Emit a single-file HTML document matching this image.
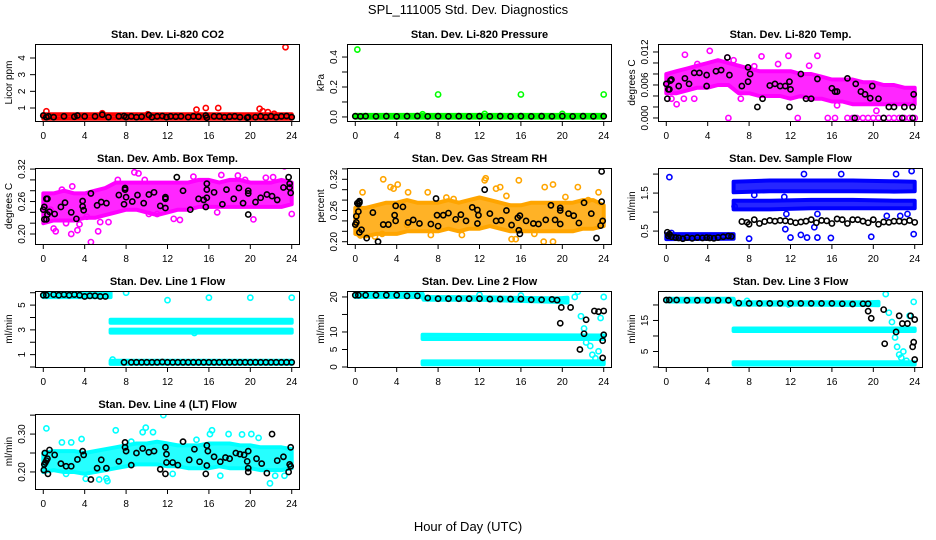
<!DOCTYPE html>
<html><head><meta charset="utf-8"><style>
html,body{margin:0;padding:0;background:#fff;}
svg{display:block;font-family:"Liberation Sans",Arial,sans-serif;}
</style></head><body>
<svg id="chart" width="936" height="540" viewBox="0 0 936 540">
<rect x="0" y="0" width="936" height="540" fill="#fff"/>
<text x="468" y="14" text-anchor="middle" font-size="13">SPL_111005  Std. Dev. Diagnostics</text>
<text x="468" y="531" text-anchor="middle" font-size="13">Hour of Day (UTC)</text>
</svg>
<script>
const HOURS=[0,1,2,3,4,5,6,7,8,9,10,11,12,13,14,15,16,17,18,19,20,21,22,23,24];
const XTICKS=[0,4,8,12,16,20,24];
const XTICK_LABELS=["0","4","8","12","16","20","24"];

// P1 CO2
const p1_bandX=[0,24];
const p1_bandLo=[0.36,0.36];
const p1_bandHi=[0.62,0.62];
const p1_cx=[0.3,14.8,15.7,16.9,20.9,21.2,21.7,23.4,5.7,10.1,22.3];
const p1_cy=[0.8,0.9,1.0,1.0,0.95,0.8,0.75,4.65,0.68,0.62,0.65];
const p1_kx=[0,0.3,0.5,1,2,3,3.3,4,5,5.7,6.3,7.3,7.8,8,8.5,9,9.5,10.2,10.5,11,11.5,11.9,12.3,12.8,13.3,14,14.5,15,15.7,15.8,16.5,17,17.5,18,18.5,19,19.7,19.8,20.5,21,21.5,22,22.5,23,23.5,24];
const p1_ky=[0.55,0.45,0.5,0.45,0.5,0.48,0.55,0.5,0.5,0.6,0.45,0.5,0.52,0.45,0.5,0.45,0.48,0.58,0.45,0.5,0.52,0.45,0.5,0.48,0.5,0.45,0.5,0.48,0.55,0.42,0.5,0.5,0.45,0.48,0.5,0.45,0.42,0.45,0.45,0.5,0.45,0.5,0.45,0.5,0.52,0.45];

// P2 Pressure
const p2_bandX=[0,24];
const p2_bandLo=[-0.004,-0.004];
const p2_bandHi=[0.014,0.014];
const p2_cx=[0.2,8,16,24,12.5,6.5,20];
const p2_cy=[0.45,0.15,0.15,0.15,0.02,0.018,0.02];
const p2_kx=[0,0.5,1,2,3,4,5,6,7,8,9,10,11,12,13,14,15,16,17,18,19,20,21,22,23,24];
const p2_ky=[0.005,0.004,0.005,0.004,0.005,0.004,0.005,0.006,0.004,0.005,0.004,0.005,0.004,0.005,0.004,0.005,0.004,0.005,0.004,0.005,0.004,0.005,0.004,0.005,0.004,0.005];

// P3 Li-820 Temp
const p3_bandLo=[0.0045,0.0045,0.005,0.0055,0.0055,0.006,0.006,0.0045,0.0045,0.004,0.004,0.004,0.0035,0.004,0.0035,0.0035,0.003,0.003,0.0025,0.0025,0.0025,0.0025,0.0025,0.0025,0.0025];
const p3_bandHi=[0.008,0.0085,0.009,0.0095,0.01,0.0105,0.01,0.0095,0.009,0.0085,0.0085,0.0085,0.0085,0.008,0.008,0.0075,0.007,0.007,0.007,0.0065,0.0065,0.006,0.006,0.0055,0.0055];
const p3_cx=[6,12.7,15.6,16.3,17.5,18,18.4,19,19.5,20,20.5,21,21.5,22,22.5,23,23.5,24,1.8,4.2,5.9,11.8,14.6,1,20.3,9.2,2.7,1.7,16.5,0.5,7.2,3,6.5,8.5,10.8,13.8];
const p3_cy=[0,0,0,0,0,0,0,0,0,0,0,0,0,0,0,0,0,0,0.0115,0.0122,0.011,0.0113,0.0113,0.0025,0.0013,0.0112,0.0035,0.0035,0.0023,0.0035,0.0035,0.0098,0.0105,0.0094,0.0098,0.0095];
const p3_kx=[0,0.1,0.2,0.3,0.4,0.5,1.2,1.8,2.2,2.7,3.2,3.9,3.9,4.8,5.3,5.9,6.1,7.3,7.9,7.9,8.1,8.8,9.3,10,10.5,11,11.5,11.9,11.9,12,13,13.5,14,14.6,16,16.3,16.5,17.5,18.2,18.3,18.8,19.2,19.7,19.9,20.5,21,21.5,22,22.8,23,23.8,23.9,23.8];
const p3_ky=[0.0062,0.0035,0.0052,0.0052,0.0068,0.007,0.0058,0.0072,0.0062,0.0082,0.0082,0.0058,0.0078,0.0085,0.0087,0.011,0.0078,0.0058,0.0092,0.0066,0.008,0.002,0.0035,0.0059,0.0062,0.0058,0.0058,0.0066,0.002,0.0052,0.008,0.0035,0.0035,0.0071,0.0054,0.0048,0.0048,0.0072,0,0.0062,0.0048,0.0043,0.0036,0.0058,0.0035,0,0.002,0.002,0,0.002,0.002,0.0043,0];

// P4 Amb Box Temp
const p4_bandLo=[0.22,0.225,0.225,0.225,0.23,0.23,0.235,0.24,0.245,0.245,0.24,0.235,0.24,0.245,0.245,0.25,0.25,0.25,0.25,0.25,0.25,0.25,0.25,0.25,0.255];
const p4_bandHi=[0.275,0.275,0.28,0.275,0.275,0.28,0.285,0.295,0.295,0.295,0.295,0.295,0.295,0.295,0.295,0.3,0.3,0.295,0.3,0.3,0.295,0.295,0.295,0.3,0.295];
const p4_cx=[1.2,2.7,3.3,4.6,5.3,3.5,2.8,1.8,8.8,9.2,14.5,23.3,24,20.3,12.6,13.2,10.2,11,5.5,6.3,4.2,7.2,17.2,18.8,21.5,22.2,19.5,0.7,1,2.2,9.8,16.8];
const p4_cy=[0.205,0.2,0.207,0.185,0.205,0.218,0.288,0.282,0.314,0.312,0.306,0.325,0.237,0.227,0.228,0.226,0.237,0.237,0.222,0.222,0.232,0.3,0.309,0.308,0.304,0.305,0.3,0.245,0.21,0.22,0.3,0.24];
const p4_kx=[0,0.1,0.1,0.3,0.3,0.4,0.4,0.6,1.1,1.7,2.1,2.7,3.2,3.8,3.8,3.9,4.6,5.2,5.6,6.1,7.3,7.9,7.9,8,7.8,8.6,9.1,9.7,10.2,10.7,11.3,11.8,11.8,11.8,12.9,13.5,14.2,15,15.5,15.8,15.8,15.8,15.7,16.5,17.3,17.7,18.4,18.9,19.3,19.8,19.8,19.8,20.5,21,21.6,22.1,22.6,23.2,23.7,23.8,23.8,23.9];
const p4_ky=[0.245,0.25,0.227,0.227,0.265,0.265,0.236,0.241,0.237,0.25,0.258,0.24,0.228,0.251,0.261,0.244,0.275,0.253,0.259,0.257,0.272,0.285,0.282,0.268,0.255,0.26,0.272,0.257,0.273,0.277,0.252,0.265,0.268,0.248,0.305,0.28,0.245,0.265,0.263,0.293,0.282,0.267,0.25,0.277,0.255,0.282,0.265,0.285,0.257,0.28,0.275,0.236,0.259,0.267,0.273,0.27,0.263,0.286,0.305,0.293,0.286,0.276];

// P5 Gas Stream RH
const p5_bandLo=[0.215,0.21,0.215,0.215,0.215,0.22,0.22,0.22,0.22,0.225,0.22,0.225,0.225,0.23,0.225,0.22,0.22,0.22,0.22,0.22,0.22,0.22,0.225,0.225,0.23];
const p5_bandHi=[0.265,0.265,0.27,0.275,0.275,0.28,0.275,0.275,0.275,0.28,0.275,0.28,0.285,0.28,0.275,0.27,0.27,0.275,0.275,0.275,0.275,0.275,0.28,0.28,0.27];
const p5_cx=[0.7,2.7,3.4,3.7,4.1,5.1,7,12.6,12.5,13.6,14,15.8,18.3,19.1,21.5,23.5,14.6,15.1,15.5,17.3,18.2,19.1,10.3,7.3,1.9,2.6,0.5,5,8.8,9.5,20.3,22.5];
const p5_cy=[0.295,0.32,0.305,0.302,0.31,0.295,0.295,0.322,0.318,0.302,0.305,0.318,0.305,0.31,0.305,0.295,0.288,0.205,0.205,0.215,0.2,0.2,0.213,0.213,0.21,0.215,0.212,0.232,0.285,0.282,0.286,0.28];
const p5_kx=[0,0.1,0.1,0.2,0.3,0.3,0.4,0.4,0.4,0.6,1.1,1.7,2.2,2.7,3.2,3.8,3.9,3.9,4.6,5.1,5.6,6.2,7.3,7.8,7.9,8,8.5,9,9.7,10.2,10.7,11.3,11.8,11.8,11.9,12.5,13,13.6,14.1,14.6,15.1,15.7,15.8,15.9,15.9,16.5,17.2,17.7,18.4,18.9,19.3,19.8,19.8,19.8,20.6,21.1,21.6,22.1,22.8,23.3,23.7,23.8,23.9,23.8];
const p5_ky=[0.233,0.237,0.249,0.274,0.272,0.258,0.275,0.278,0.218,0.223,0.207,0.256,0.2,0.233,0.233,0.251,0.24,0.269,0.267,0.237,0.242,0.235,0.234,0.283,0.251,0.23,0.251,0.255,0.243,0.252,0.24,0.266,0.261,0.235,0.251,0.3,0.254,0.24,0.241,0.26,0.232,0.246,0.222,0.215,0.25,0.24,0.235,0.234,0.242,0.27,0.242,0.234,0.265,0.26,0.254,0.25,0.236,0.275,0.254,0.207,0.231,0.277,0.24,0.335];

// P6 Sample Flow
const p6_band1X=[0,6.5];
const p6_band1Lo=[0.29,0.3];
const p6_band1Hi=[0.42,0.42];
const p6_band2X=[6.5,10,14,18,22,24];
const p6_band2Lo=[1.52,1.55,1.55,1.55,1.54,1.55];
const p6_band2Hi=[1.8,1.83,1.83,1.83,1.81,1.8];
const p6_band3X=[6.5,10,14,18,22,24];
const p6_band3Lo=[1.07,1.07,1.1,1.1,1.1,1.1];
const p6_band3Hi=[1.3,1.3,1.32,1.32,1.3,1.3];
const p6_cx=[0.3,8,12,13,13.6,14.3,14.6,15.9,19.8,23.9,11.5,13.3,16.9,22.2,23.7,21.3,22.6,23.3,11.4,8.5,14.6,11.6,6.6,0.5];
const p6_cy=[1.92,0.3,0.33,0.4,0.33,0.6,0.33,0.32,0.35,0.42,0.55,2.0,2.0,2.0,2.08,0.9,0.9,0.95,1.4,1.45,0.95,0.95,1.15,0.45];
const p6_kx=[0.1,0.2,0.3,0.5,0.9,1.2,1.6,2.0,2.5,3.0,3.5,3.9,4.2,4.6,5.0,5.5,6.0,6.3,7.3,7.8,8,8.5,9,9.5,10,10.5,11,11.5,12,12.5,13,13.5,14,14.5,15,15.5,16,16.5,17,17.5,18,18.5,19,19.5,20,20.5,21,21.5,22,22.5,23,23.5,24];
const p6_ky=[0.47,0.37,0.42,0.35,0.33,0.32,0.3,0.33,0.31,0.33,0.32,0.33,0.32,0.31,0.33,0.35,0.37,0.36,0.75,0.73,0.68,0.8,0.7,0.75,0.78,0.76,0.78,0.77,0.75,0.72,0.74,0.76,0.8,0.72,0.78,0.77,0.7,0.82,0.8,0.7,0.8,0.8,0.76,0.72,0.8,0.68,0.74,0.73,0.76,0.76,0.74,0.78,0.73];

// P7 Line 1 Flow
const p7_band1X=[0,6.5];
const p7_band1Lo=[5.65,5.65];
const p7_band1Hi=[5.98,5.98];
const p7_band2X=[6.5,24];
const p7_band2Lo=[3.58,3.58];
const p7_band2Hi=[3.82,3.82];
const p7_band3X=[6.5,24];
const p7_band3Lo=[2.78,2.78];
const p7_band3Hi=[3.02,3.02];
const p7_band4X=[6.5,24];
const p7_band4Lo=[0.25,0.25];
const p7_band4Hi=[0.5,0.5];
const p7_cx=[8,12,16,20,24,14.6,6.7];
const p7_cy=[6.0,5.4,5.6,5.6,5.6,2.75,0.6];
const p7_kx=[0,0.3,1,1.5,2,2.5,3,3.5,4,4.5,5,5.5,6,7.8,8.5,9,9.5,10,10.5,11,11.5,12,12.5,13,13.5,14,14.5,15,15.5,16,16.5,17,17.5,18,18.5,19,19.5,20,20.5,21,21.5,22,22.5,23,23.5,24];
const p7_ky=[5.8,5.8,5.85,5.8,5.85,5.8,5.85,5.8,5.7,5.75,5.75,5.7,5.7,0.38,0.38,0.38,0.38,0.38,0.38,0.38,0.4,0.38,0.38,0.38,0.38,0.38,0.38,0.38,0.38,0.38,0.38,0.38,0.38,0.38,0.38,0.38,0.38,0.38,0.38,0.38,0.38,0.38,0.38,0.38,0.38,0.38];

// P8 Line 2 Flow
const p8_band1X=[0,6.5,6.6,12,19.5,20.5];
const p8_band1Lo=[20.0,20.0,19.2,19.2,18.6,18.4];
const p8_band1Hi=[20.9,20.9,20.0,19.9,19.6,19.8];
const p8_band2X=[6.5,24];
const p8_band2Lo=[8.0,8.0];
const p8_band2Hi=[9.2,9.0];
const p8_band3X=[6.5,24];
const p8_band3Lo=[0.8,0.8];
const p8_band3Hi=[1.6,1.6];
const p8_cx=[12,16,21.5,21.8,22.1,22.3,22.7,22.9,23.5,23.7,24,21.2,23.2];
const p8_cy=[20.6,20.4,21.5,14.5,11,7,6,3.5,4.5,14,20,20,2.5];
const p8_kx=[0,0.3,1,2,3,4,5,6,7,8,9,10,11,12,13,14,15,16,17,18,19,19.5,19.9,19.8,20.8,21.7,22.1,22.3,23.1,23.5,24,24,23.9,23.9];
const p8_ky=[20.5,20.5,20.5,20.5,20.5,20.5,20.3,20.3,19.7,19.5,19.5,19.5,19.5,19.5,19.4,19.4,19.4,19.4,19.2,19.2,19.3,19.1,17,12.5,17,5,9.5,13.5,16,15.8,16,9.2,7.5,2.6];

// P9 Line 3 Flow
const p9_band1X=[0,6.5,6.6,12,19.5,20.5];
const p9_band1Lo=[21.1,21.1,20.1,20.1,20.0,19.9];
const p9_band1Hi=[22.0,22.0,20.9,20.9,20.9,21.0];
const p9_band2X=[6.5,24];
const p9_band2Lo=[11.6,11.6];
const p9_band2Hi=[12.4,12.4];
const p9_band3X=[6.5,24];
const p9_band3Lo=[0.8,0.8];
const p9_band3Hi=[1.5,1.5];
const p9_cx=[21.2,21.5,21.8,22.1,22.3,22.5,22.9,23.5,23.9,7.8,11.8,22.7,23.2];
const p9_cy=[23.5,17.5,14.5,9.5,6.5,4,5,16.5,21,21.3,20.2,3,2];
const p9_kx=[0,0.3,1,2,3,4,5,6,7,8,9,10,11,12,13,14,15,16,17,18,19,19.5,19.5,19.8,21,21.1,22.2,22.5,22.8,23.3,23.6,23.8,23.9,24,24];
const p9_ky=[21.6,21.6,21.6,21.5,21.5,21.5,21.5,21.5,20.6,20.5,20.5,20.5,20.5,20.5,20.5,20.5,20.5,20.5,20.4,20.3,20.4,20.4,18,15.7,18.5,7.5,11.3,16.5,14,14,16.5,6.5,8,15.3,2.4];

// P10 Line 4 (LT) Flow
const p10_bandLo=[0.2,0.205,0.2,0.2,0.195,0.2,0.205,0.21,0.215,0.22,0.22,0.22,0.215,0.215,0.21,0.21,0.21,0.215,0.21,0.21,0.21,0.205,0.205,0.205,0.21];
const p10_bandHi=[0.25,0.255,0.255,0.255,0.25,0.255,0.26,0.265,0.27,0.275,0.275,0.28,0.275,0.27,0.27,0.27,0.275,0.275,0.275,0.27,0.27,0.265,0.265,0.265,0.26];
const p10_cx=[0.3,3.7,4.1,5.4,6.1,6.2,7,9.6,9.9,10.6,11.6,17.1,17.9,19.2,20.1,21.9,22.4,23.3,16.1,16.3,12.5,2.2,2.7,1.8,8.5,14.8,20.8];
const p10_cy=[0.315,0.287,0.182,0.18,0.183,0.176,0.31,0.305,0.317,0.305,0.35,0.19,0.3,0.299,0.3,0.17,0.19,0.19,0.3,0.31,0.195,0.195,0.278,0.278,0.28,0.285,0.29];
const p10_kx=[0.05,0.1,0.15,0.2,0.3,0.4,0.45,0.6,1.1,1.7,2.2,2.7,3.3,3.8,3.9,4.6,5.2,5.6,6.1,7.3,7.9,7.9,8,8.5,9,9.6,10.2,10.7,11.3,11.8,11.8,11.9,11.9,12.5,13,13.5,14.1,14.6,15.1,15.7,15.8,15.9,15.8,16.5,17.1,17.6,18,18.6,19,19.4,19.7,19.8,19.8,19.8,20.6,21.1,21.6,22.1,22.6,23.2,23.7,23.8,23.9,23.9];
const p10_ky=[0.205,0.22,0.25,0.225,0.23,0.235,0.195,0.258,0.245,0.222,0.215,0.215,0.233,0.255,0.245,0.18,0.21,0.232,0.21,0.228,0.278,0.265,0.255,0.218,0.25,0.262,0.252,0.255,0.207,0.195,0.265,0.247,0.225,0.225,0.218,0.28,0.232,0.26,0.227,0.195,0.27,0.255,0.217,0.24,0.227,0.238,0.235,0.25,0.247,0.245,0.228,0.255,0.21,0.2,0.235,0.222,0.197,0.3,0.23,0.24,0.2,0.22,0.215,0.265];

const RED="#FF0000",GREEN="#00FF00",MAG="#FF00FF",ORG="#FFA500",BLUE="#0000FF",CYAN="#00FFFF";
const PANELS=[
 {name:"co2",title:"Stan. Dev. Li-820 CO2",ylab:"Licor ppm",col:0,row:0,ymin:0.22,ymax:4.84,ticks:[1,2,3,4],tl:["1","2","3","4"],color:RED,bands:[[p1_bandX,p1_bandLo,p1_bandHi]],cx:p1_cx,cy:p1_cy,kx:p1_kx,ky:p1_ky},
 {name:"pressure",title:"Stan. Dev. Li-820 Pressure",ylab:"kPa",col:1,row:0,ymin:-0.027,ymax:0.487,ticks:[0,0.1,0.2,0.3,0.4],tl:["0.0","","0.2","","0.4"],color:GREEN,bands:[[p2_bandX,p2_bandLo,p2_bandHi]],cx:p2_cx,cy:p2_cy,kx:p2_kx,ky:p2_ky},
 {name:"li820-temp",title:"Stan. Dev. Li-820 Temp.",ylab:"degrees C",col:2,row:0,ymin:-0.00055,ymax:0.01345,ticks:[0,0.002,0.004,0.006,0.008,0.01,0.012],tl:["0.000","","","0.006","","","0.012"],color:MAG,bands:[[HOURS,p3_bandLo,p3_bandHi]],cx:p3_cx,cy:p3_cy,kx:p3_kx,ky:p3_ky},
 {name:"amb-box-temp",title:"Stan. Dev. Amb. Box Temp.",ylab:"degrees C",col:0,row:1,ymin:0.1815,ymax:0.322,ticks:[0.2,0.22,0.24,0.26,0.28,0.3,0.32],tl:["0.20","","","0.26","","","0.32"],color:MAG,bands:[[HOURS,p4_bandLo,p4_bandHi]],cx:p4_cx,cy:p4_cy,kx:p4_kx,ky:p4_ky},
 {name:"gas-stream-rh",title:"Stan. Dev. Gas Stream RH",ylab:"percent",col:1,row:1,ymin:0.1956,ymax:0.3417,ticks:[0.2,0.22,0.24,0.26,0.28,0.3,0.32,0.34],tl:["0.20","","","0.26","","","0.32",""],color:ORG,bands:[[HOURS,p5_bandLo,p5_bandHi]],cx:p5_cx,cy:p5_cy,kx:p5_kx,ky:p5_ky},
 {name:"sample-flow",title:"Stan. Dev. Sample Flow",ylab:"ml/min",col:2,row:1,ymin:0.16,ymax:2.16,ticks:[0.5,1,1.5,2],tl:["0.5","","1.5",""],color:BLUE,bands:[[p6_band1X,p6_band1Lo,p6_band1Hi],[p6_band2X,p6_band2Lo,p6_band2Hi],[p6_band3X,p6_band3Lo,p6_band3Hi]],cx:p6_cx,cy:p6_cy,kx:p6_kx,ky:p6_ky},
 {name:"line1-flow",title:"Stan. Dev. Line 1 Flow",ylab:"ml/min",col:0,row:2,ymin:0,ymax:6.14,ticks:[0,1,2,3,4,5,6],tl:["","1","","3","","5",""],color:CYAN,bands:[[p7_band1X,p7_band1Lo,p7_band1Hi],[p7_band2X,p7_band2Lo,p7_band2Hi],[p7_band3X,p7_band3Lo,p7_band3Hi],[p7_band4X,p7_band4Lo,p7_band4Hi]],cx:p7_cx,cy:p7_cy,kx:p7_kx,ky:p7_ky},
 {name:"line2-flow",title:"Stan. Dev. Line 2 Flow",ylab:"ml/min",col:1,row:2,ymin:0,ymax:21.7,ticks:[0,5,10,15,20],tl:["0","5","10","","20"],color:CYAN,bands:[[p8_band1X,p8_band1Lo,p8_band1Hi],[p8_band2X,p8_band2Lo,p8_band2Hi],[p8_band3X,p8_band3Lo,p8_band3Hi]],cx:p8_cx,cy:p8_cy,kx:p8_kx,ky:p8_ky},
 {name:"line3-flow",title:"Stan. Dev. Line 3 Flow",ylab:"ml/min",col:2,row:2,ymin:0,ymax:24.5,ticks:[0,5,10,15,20],tl:["","5","","15",""],color:CYAN,bands:[[p9_band1X,p9_band1Lo,p9_band1Hi],[p9_band2X,p9_band2Lo,p9_band2Hi],[p9_band3X,p9_band3Lo,p9_band3Hi]],cx:p9_cx,cy:p9_cy,kx:p9_kx,ky:p9_ky},
 {name:"line4-flow",title:"Stan. Dev. Line 4 (LT) Flow",ylab:"ml/min",col:0,row:3,ymin:0.155,ymax:0.353,ticks:[0.2,0.25,0.3,0.35],tl:["0.20","","0.30",""],color:CYAN,bands:[[HOURS,p10_bandLo,p10_bandHi]],cx:p10_cx,cy:p10_cy,kx:p10_kx,ky:p10_ky}
];
const COLS=[[35,300],[347,612],[658,923]];
const ROWS=[[44,121],[168,244],[291,367],[414,489]];
const XMIN=-0.8,XMAX=24.8;
const NS="http://www.w3.org/2000/svg";
const svg=document.getElementById("chart");
function mk(tag,attrs,parent){const e=document.createElementNS(NS,tag);for(const k in attrs)e.setAttribute(k,attrs[k]);parent.appendChild(e);return e;}

PANELS.forEach(p=>{
  const [L,R]=COLS[p.col],[T,B]=ROWS[p.row];
  const sx=v=>L+(v-XMIN)/(XMAX-XMIN)*(R-L);
  const sy=v=>B-(v-p.ymin)/(p.ymax-p.ymin)*(B-T);
  const g=mk("g",{},svg);
  
  
  const cid="clip-"+p.name;
  const cp=mk("clipPath",{id:cid},g);
  mk("rect",{x:L,y:T,width:R-L,height:B-T},cp);
  const plot=mk("g",{"clip-path":"url(#"+cid+")"},g);
  
  
  p.bands.forEach((b,bi)=>{
    const [xs,lo,hi]=b;
    let pts=[];
    for(let i=0;i<xs.length;i++)pts.push(sx(xs[i]).toFixed(1)+","+sy(hi[i]).toFixed(1));
    for(let i=xs.length-1;i>=0;i--)pts.push(sx(xs[i]).toFixed(1)+","+sy(lo[i]).toFixed(1));
    const poly=mk("polygon",{points:pts.join(" "),fill:p.color,"fill-opacity":0.85,stroke:p.color,"stroke-width":4,"stroke-linejoin":"round"},plot);
    
    
  });
  p.cx.forEach((x,i)=>{
    const c=mk("circle",{cx:sx(x),cy:sy(p.cy[i]),r:2.6,fill:"none",stroke:p.color,"stroke-width":1.6},plot);
    
    
  });
  p.kx.forEach((x,i)=>{
    const c=mk("circle",{cx:sx(x),cy:sy(p.ky[i]),r:2.6,fill:"none",stroke:"#000","stroke-width":1.6},plot);
    
    
  });
  const box=mk("rect",{x:L+0.5,y:T+0.5,width:R-L-1,height:B-T,fill:"none",stroke:"#000","stroke-width":1},g);
  
  
  XTICKS.forEach((t,i)=>{
    const x=sx(t);
    const tk=mk("line",{x1:x,y1:B,x2:x,y2:B+5,stroke:"#000","stroke-width":1},g);
    
    
    const tx=mk("text",{x:x,y:B+18,"text-anchor":"middle","font-size":10},g);
    tx.textContent=XTICK_LABELS[i];
    
    
  });
  p.ticks.forEach((t,i)=>{
    const y=sy(t);
    const tk=mk("line",{x1:L-5,y1:y,x2:L,y2:y,stroke:"#000","stroke-width":1},g);
    
    
    if(p.tl[i]){
      const tx=mk("text",{x:0,y:0,"text-anchor":"middle","font-size":10,transform:"translate("+(L-10)+","+y+") rotate(-90)"},g);
      tx.textContent=p.tl[i];
      
      
    }
  });
  const yl=mk("text",{x:0,y:0,"text-anchor":"middle","font-size":10,transform:"translate("+(L-23)+","+((T+B)/2)+") rotate(-90)"},g);
  yl.textContent=p.ylab;
  
  
  const tt=mk("text",{x:(L+R)/2,y:T-6,"text-anchor":"middle","font-size":11,"font-weight":"bold"},g);
  tt.textContent=p.title;
  
  
});
</script>
</body></html>
